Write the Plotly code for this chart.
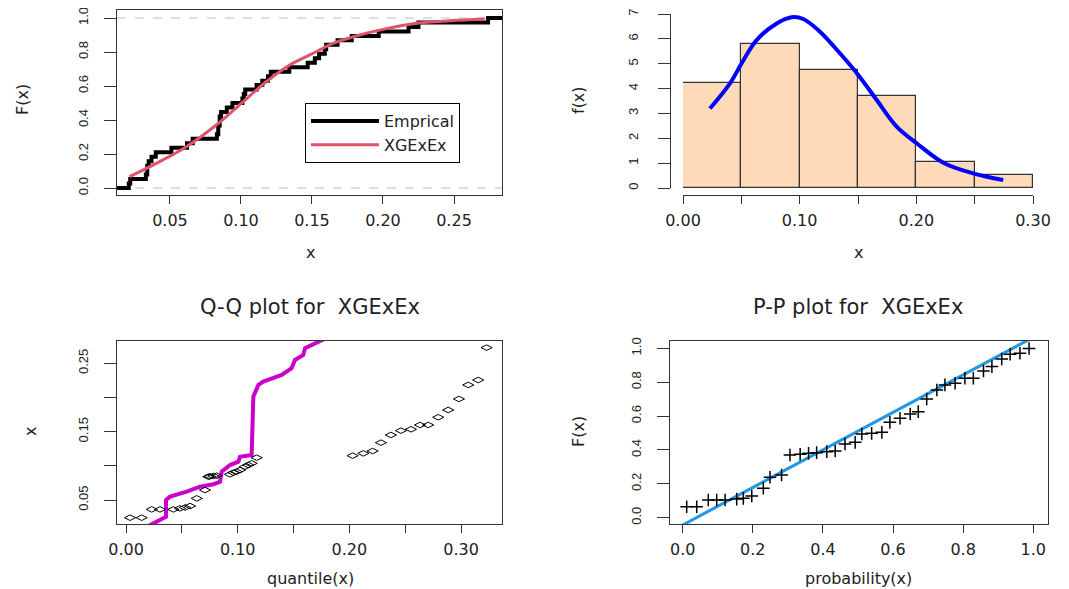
import plotly.graph_objects as go

# ---------------- data ----------------
# sorted sample (n = 38)
data_x = [0.021, 0.022, 0.033, 0.034, 0.034, 0.035, 0.037, 0.040,
          0.051, 0.062, 0.066, 0.083, 0.084, 0.084, 0.085, 0.085, 0.086, 0.090, 0.094,
          0.101, 0.102, 0.103, 0.111, 0.115, 0.119, 0.121, 0.134, 0.147,
          0.152, 0.155, 0.159, 0.160, 0.168, 0.178, 0.197,
          0.218, 0.225, 0.274]

# fitted XGExEx CDF
cdf_x = [0.0216, 0.0404, 0.0615, 0.0826, 0.1002, 0.1178, 0.1343, 0.1507,
         0.1648, 0.1836, 0.2000, 0.2235, 0.2470, 0.2716]
cdf_y = [0.067, 0.145, 0.243, 0.371, 0.498, 0.625, 0.724, 0.792,
         0.851, 0.900, 0.933, 0.969, 0.984, 0.994]

# fitted density
dens_x = [0.0231, 0.0403, 0.0503, 0.0631, 0.0803, 0.0931, 0.1031, 0.1174,
          0.1345, 0.1502, 0.1660, 0.1831, 0.2003, 0.2231, 0.2488, 0.2745]
dens_y = [3.20, 4.21, 5.02, 5.95, 6.62, 6.87, 6.80, 6.29,
          5.42, 4.55, 3.54, 2.47, 1.80, 1.02, 0.59, 0.32]

# Q-Q plot points
qq_q = [0.0036, 0.0140, 0.0230, 0.0304, 0.0424, 0.0483, 0.0528, 0.0573, 0.0633, 0.0707,
        0.0737, 0.0752, 0.0782, 0.0812, 0.0931, 0.0961, 0.0991, 0.1021, 0.1065, 0.1095,
        0.1125, 0.1170, 0.2029, 0.2125, 0.2208, 0.2283, 0.2372, 0.2462, 0.2552, 0.2632,
        0.2706, 0.2796, 0.2885, 0.2981, 0.3065, 0.3154, 0.3229]
qq_x = [0.0241, 0.0241, 0.0363, 0.0363, 0.0363, 0.0378, 0.0390, 0.0412, 0.0524, 0.0646,
        0.0841, 0.0846, 0.0851, 0.0856, 0.0876, 0.0900, 0.0915, 0.0939, 0.0988, 0.1012,
        0.1037, 0.1119, 0.1149, 0.1183, 0.1217, 0.1339, 0.1452, 0.1515, 0.1535, 0.1598,
        0.1598, 0.1711, 0.1818, 0.1979, 0.2184, 0.2256, 0.2730]

# Q-Q reference line (magenta)
mq_x = [0.0200, 0.0230, 0.0334, 0.0358, 0.0358, 0.0394, 0.0543, 0.0662, 0.0782, 0.0842,
        0.0857, 0.0931, 0.1006, 0.1021, 0.1125, 0.1140, 0.1185, 0.1229, 0.1394, 0.1483,
        0.1513, 0.1587, 0.1603, 0.1737, 0.1780]
mq_y = [0.0120, 0.0144, 0.0232, 0.0256, 0.0500, 0.0549, 0.0622, 0.0695, 0.0730, 0.0768,
        0.0915, 0.1012, 0.1061, 0.1134, 0.1159, 0.2013, 0.2184, 0.2232, 0.2330, 0.2428,
        0.2550, 0.2623, 0.2721, 0.2828, 0.2860]

# P-P plot points
pp_x = [0.0114, 0.040, 0.073, 0.097, 0.121, 0.154, 0.173, 0.197, 0.230, 0.249,
        0.282, 0.306, 0.335, 0.359, 0.382, 0.411, 0.435, 0.463, 0.492, 0.511,
        0.539, 0.568, 0.591, 0.620, 0.649, 0.672, 0.696, 0.725, 0.748, 0.777,
        0.805, 0.829, 0.858, 0.882, 0.910, 0.934, 0.962, 0.988]
pp_y = [0.065, 0.065, 0.1045, 0.1045, 0.1045, 0.110, 0.1145, 0.128, 0.174, 0.2386,
        0.252, 0.370, 0.374, 0.380, 0.384, 0.390, 0.394, 0.435, 0.445, 0.494,
        0.498, 0.504, 0.563, 0.587, 0.612, 0.626, 0.701, 0.754, 0.784, 0.794,
        0.823, 0.823, 0.866, 0.892, 0.937, 0.965, 0.971, 0.999]
pp_line_x = [0.0, 1.0]
pp_line_y = [-0.043, 1.065]

# axis ranges
r1x = [0.0127, 0.2838]; r1y = [-0.041, 1.050]
r3x = [-0.0081, 0.3367]; r3y = [0.0149, 0.2827]
r4x = [-0.0362, 1.042]; r4y = [-0.037, 1.043]

# ---------------- helpers ----------------
OFF = 8                      # page body margin
W, H = 1069 - OFF, 589 - OFF
def fx(p): return (p - OFF) / W
def fy(p): return 1 - (p - OFF) / H

XT = dict(family="DejaVu Sans", size=16, color="#222")
YT = dict(family="Liberation Sans", size=13, color="#222")
LINE = "#333"

# ECDF step line built from the sample
n = len(data_x)
ecdf_x = [r1x[0]] + data_x + [r1x[1]]
ecdf_y = [0.0] + [(i + 1) / n for i in range(n)] + [1.0]

fig = go.Figure()

# Panel 1
fig.add_trace(go.Scatter(x=ecdf_x, y=ecdf_y, mode="lines", line=dict(color="black", width=4, shape="hv"),
                         name="Emprical", xaxis="x", yaxis="y"))
fig.add_trace(go.Scatter(x=cdf_x, y=cdf_y, mode="lines", line=dict(color="#DF536B", width=3, shape="spline"),
                         name="XGExEx", xaxis="x", yaxis="y"))

# Panel 2
fig.add_trace(go.Histogram(x=data_x, xbins=dict(start=0, end=0.3, size=0.05), histnorm="probability density",
                           marker=dict(color="#FFDAB9", line=dict(color="#333", width=1.2)),
                           showlegend=False, xaxis="x2", yaxis="y2"))
fig.add_trace(go.Scatter(x=dens_x, y=dens_y, mode="lines", line=dict(color="#0000FF", width=4, shape="spline"),
                         showlegend=False, xaxis="x2", yaxis="y2"))

# Panel 3
fig.add_trace(go.Scatter(x=mq_x, y=mq_y, mode="lines", line=dict(color="#CC00CC", width=4),
                         showlegend=False, xaxis="x3", yaxis="y3"))
fig.add_trace(go.Scatter(x=qq_q, y=qq_x, mode="markers",
                         marker=dict(symbol="diamond-wide-open", size=8, color="black", line=dict(width=1, color="black")),
                         showlegend=False, xaxis="x3", yaxis="y3", cliponaxis=True))

# Panel 4
fig.add_trace(go.Scatter(x=pp_line_x, y=pp_line_y, mode="lines", line=dict(color="#2297E6", width=3),
                         showlegend=False, xaxis="x4", yaxis="y4"))
fig.add_trace(go.Scatter(x=pp_x, y=pp_y, mode="markers",
                         marker=dict(symbol="cross-thin-open", size=9, color="black", line=dict(width=1.5, color="black")),
                         showlegend=False, xaxis="x4", yaxis="y4"))

def ax(domain, rng, tickvals, ticktext, font, ticklen, standoff, mirror=True, **kw):
    d = dict(domain=domain, range=rng, tickvals=tickvals, ticktext=ticktext, tickfont=font,
             ticks="outside", ticklen=ticklen, tickwidth=1, tickcolor=LINE,
             showline=True, linecolor=LINE, linewidth=1, mirror=mirror, automargin=False,
             showgrid=False, zeroline=False, ticklabelstandoff=standoff, fixedrange=True,
             ticklabeloverflow="allow")
    d.update(kw)
    return d

x1t = [0.05, 0.10, 0.15, 0.20, 0.25]
y01 = [0, 0.2, 0.4, 0.6, 0.8, 1.0]
x2t = [0, 0.05, 0.10, 0.15, 0.20, 0.25, 0.30]
x3t = [0, 0.05, 0.10, 0.15, 0.20, 0.25, 0.30]
y3t = [0.05, 0.10, 0.15, 0.20, 0.25]

layout = dict(
    width=W, height=H, margin=dict(l=0, r=0, t=0, b=0, pad=0, autoexpand=False),
    paper_bgcolor="white", plot_bgcolor="white", bargap=0,
    showlegend=True,
    legend=dict(x=fx(305), y=fy(103), xanchor="left", yanchor="top",
                bordercolor="black", borderwidth=1, bgcolor="white",
                font=dict(family="DejaVu Sans", size=16, color="#222"),
                itemwidth=68, tracegroupgap=0),
    xaxis=ax([fx(117), fx(502)], r1x, x1t, ["%.2f" % v for v in x1t], XT, 8, 3, anchor="y"),
    yaxis=ax([fy(195), fy(9.5)], r1y, y01, ["%.1f" % v for v in y01], YT, 12, 11, anchor="x", tickangle=-90),
    xaxis2=ax([fx(683), fx(1033)], [0, 0.3], x2t, ["0.00", "", "0.10", "", "0.20", "", "0.30"], XT, 8, 3,
              mirror=False, anchor="free", position=fy(195)),
    yaxis2=ax([fy(188), fy(14)], [0, 7], list(range(8)), [str(v) for v in range(8)], YT, 12, 15,
              mirror=False, anchor="free", position=fx(670), tickangle=-90),
    xaxis3=ax([fx(117), fx(502)], r3x, x3t, ["0.00", "", "0.10", "", "0.20", "", "0.30"], XT, 8, 3, anchor="y3"),
    yaxis3=ax([fy(524), fy(341)], r3y, y3t, ["0.05", "", "0.15", "", "0.25"], YT, 12, 11, anchor="x3", tickangle=-90),
    xaxis4=ax([fx(670), fx(1048)], r4x, y01, ["%.1f" % v for v in y01], XT, 8, 3, anchor="y4"),
    yaxis4=ax([fy(524), fy(341)], r4y, y01, ["%.1f" % v for v in y01], YT, 12, 11, anchor="x4", tickangle=-90),
)
fig.update_layout(**layout)

# dashed reference lines at 0 and 1 (ECDF panel)
for yv in [0, 1]:
    fig.add_shape(type="line", xref="x domain", yref="y", x0=0, x1=1, y0=yv, y1=yv,
                  line=dict(color="#BDBDBD", width=1, dash="dash"), layer="below")

AF = dict(family="DejaVu Sans", size=16, color="#222")
TF = dict(family="DejaVu Sans", size=21, color="#222")
def ann(x, y, text, font, angle=0):
    fig.add_annotation(x=fx(x), y=fy(y), xref="paper", yref="paper", text=text, showarrow=False,
                       font=font, textangle=angle, xanchor="center", yanchor="middle")

ann(22, 100, "F(x)", AF, -90)
ann(310, 252, "x", AF)
ann(578, 100, "f(x)", AF, -90)
ann(858, 252, "x", AF)
ann(310, 307, "Q-Q plot for\u00a0 XGExEx", TF)
ann(30, 432, "x", AF, -90)
ann(310, 578, "quantile(x)", AF)
ann(858, 307, "P-P plot for\u00a0 XGExEx", TF)
ann(578, 432, "F(x)", AF, -90)
ann(858, 578, "probability(x)", AF)

fig.write_html("out.html")
